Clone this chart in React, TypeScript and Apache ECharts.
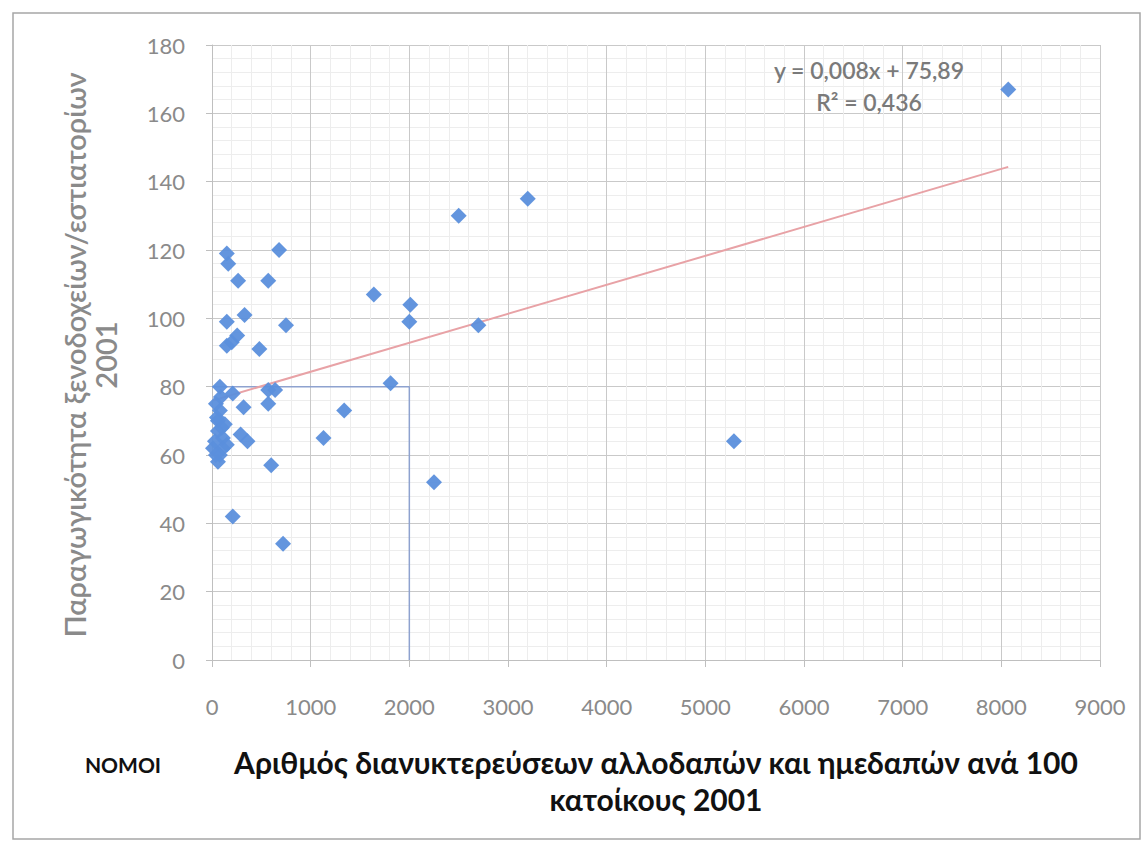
import React, { useEffect, useRef } from "react";
import * as echarts from "echarts";

// Prefecture data: overnight stays per 100 inhabitants (x) vs hotel/restaurant productivity (y)
const overnightStays: number[] = [
  8070, 3200, 2500, 680, 150, 165, 265, 570, 1640, 2010,
  2000, 150, 330, 750, 2700, 255, 200, 150, 480, 1810,
  80, 210, 570, 640, 570, 320, 1340, 80, 60, 60,
  110, 290, 360, 1130, 10, 110, 80, 60, 600, 2250,
  5290, 210, 720, 40, 100, 30, 50, 130, 40, 90, 150,
];
const productivity: number[] = [
  167, 135, 130, 120, 119, 116, 111, 111, 107, 104,
  99, 99, 101, 98, 98, 95, 93, 92, 91, 81,
  80, 78, 79, 79, 75, 74, 73, 73, 70, 67,
  65, 66, 64, 65, 62, 62, 60, 58, 57, 52,
  64, 42, 34, 75, 68, 64, 71, 69, 60, 77, 63,
];

const trendSlope = 0.00848;
const trendIntercept = 75.89;
const trendLabel = "y = 0,008x + 75,89";
const r2Label = "R² = 0,436";

const refX = 2000;
const refY = 80;

const xTitle = "Αριθμός διανυκτερεύσεων αλλοδαπών και ημεδαπών ανά 100\nκατοίκους 2001";
const yTitle = "Παραγωγικότητα ξενοδοχείων/εστιατορίων\n2001";
const sideLabel = "NOMOI";

export default function App() {
  const ref = useRef<HTMLDivElement>(null);

  useEffect(() => {
    if (!ref.current) return;
    const chart = echarts.init(ref.current, null, { renderer: "svg" });
    const pts = overnightStays.map((x, i) => [x, productivity[i]]);
    const xmin = Math.min(...overnightStays);
    const xmax = Math.max(...overnightStays);
    const trend = [
      [xmin, trendIntercept + trendSlope * xmin],
      [xmax, trendIntercept + trendSlope * xmax],
    ];
    const font = "Lato, 'Open Sans', sans-serif";

    chart.setOption({
      animation: false,
      backgroundColor: "#ffffff",
      grid: { left: 212, top: 45, width: 888, height: 615, containLabel: false },
      xAxis: {
        type: "value",
        min: 0,
        max: 9000,
        interval: 1000,
        axisLine: { show: true, lineStyle: { color: "#bfbfbf", width: 1 } },
        axisTick: { show: true, length: 7, lineStyle: { color: "#bfbfbf" } },
        axisLabel: {
          color: "#8a8a8a",
          fontSize: 22,
          margin: 35,
          fontFamily: font,
          formatter: (v: number) => String(v),
        },
        splitLine: { show: true, lineStyle: { color: "#c9c9c9", width: 1 } },
        minorTick: { show: false, splitNumber: 5 },
        minorSplitLine: { show: true, lineStyle: { color: "#ededed", width: 1 } },
      },
      yAxis: {
        type: "value",
        min: 0,
        max: 180,
        interval: 20,
        axisLine: { show: true, lineStyle: { color: "#bfbfbf", width: 1 } },
        axisTick: { show: true, length: 6, lineStyle: { color: "#bfbfbf" } },
        axisLabel: { color: "#8a8a8a", fontSize: 22, margin: 27, fontFamily: font },
        splitLine: { show: true, lineStyle: { color: "#c9c9c9", width: 1 } },
        minorTick: { show: false, splitNumber: 5 },
        minorSplitLine: { show: true, lineStyle: { color: "#ededed", width: 1 } },
      },
      series: [
        {
          type: "line",
          data: [[0, refY], [refX, refY], [refX, 0]],
          symbol: "none",
          lineStyle: { color: "#8ea2cf", width: 1.5 },
          silent: true,
          z: 1,
        },
        {
          type: "line",
          data: trend,
          symbol: "none",
          lineStyle: { color: "#e8a2a6", width: 2 },
          silent: true,
          z: 2,
        },
        {
          type: "scatter",
          data: pts,
          symbol: "diamond",
          symbolSize: 16,
          itemStyle: { color: "#5b8fdc", opacity: 0.95 },
          z: 3,
        },
      ],
      graphic: [
        {
          type: "rect",
          shape: { x: 13, y: 13, width: 1127, height: 826 },
          style: { fill: "none", stroke: "#a6a6a6", lineWidth: 1.5 },
          silent: true,
        },
        {
          type: "text",
          x: 869,
          y: 86,
          style: {
            text: trendLabel + "\n" + r2Label,
            fill: "#7a7a7a",
            font: `600 23px ${font}`,
            align: "center",
            verticalAlign: "middle",
            lineHeight: 32,
          },
          z: 10,
        },
        {
          type: "text",
          x: 90,
          y: 355,
          rotation: Math.PI / 2,
          style: {
            text: yTitle,
            fill: "#8a8a8a",
            font: `600 29px ${font}`,
            align: "center",
            verticalAlign: "middle",
            lineHeight: 31,
          },
        },
        {
          type: "text",
          x: 656,
          y: 780,
          style: {
            text: xTitle,
            fill: "#111111",
            font: `bold 30px ${font}`,
            align: "center",
            verticalAlign: "middle",
            lineHeight: 37,
          },
        },
        {
          type: "text",
          x: 123,
          y: 764,
          style: {
            text: sideLabel,
            fill: "#111111",
            font: `bold 21px ${font}`,
            align: "center",
            verticalAlign: "middle",
          },
        },
      ],
    });
    return () => chart.dispose();
  }, []);

  return (
    <div
      ref={ref}
      style={{ position: "absolute", left: 0, top: 0, width: 1143, height: 847 }}
    />
  );
}
